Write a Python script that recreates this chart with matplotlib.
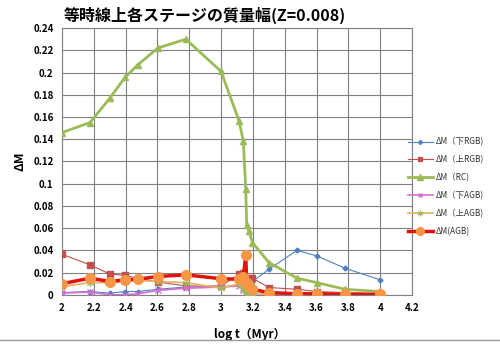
import numpy as np
import matplotlib.pyplot as plt
from matplotlib.lines import Line2D

plt.rcParams['font.family'] = ['Noto Sans CJK JP', 'DejaVu Sans']

# log t (Myr) sample points
log_t = [2.0, 2.176, 2.301, 2.398, 2.477, 2.602, 2.778, 3.0, 3.114, 3.140,
         3.155, 3.161, 3.176, 3.197, 3.301, 3.477, 3.602, 3.778, 4.0]

dm_lower_rgb = [0.002, 0.003, 0.0015, 0.003, 0.003, 0.005, 0.007, 0.007, 0.009, 0.011,
                0.013, 0.012, 0.011, 0.012, 0.023, 0.040, 0.035, 0.024, 0.0135]
dm_upper_rgb = [0.0365, 0.027, 0.0187, 0.0174, 0.015, 0.0115, 0.008, 0.008, 0.0187, 0.020,
                0.014, 0.012, 0.015, 0.015, 0.0066, 0.005, 0.003, 0.002, 0.001]
dm_rc = [0.146, 0.155, 0.177, 0.196, 0.207, 0.222, 0.230, 0.201, 0.156, 0.138,
         0.095, 0.063, 0.057, 0.047, 0.029, 0.015, 0.011, 0.005, 0.003]
dm_lower_agb = [0.0015, 0.0025, 0.0, 0.0, 0.001, 0.004, 0.006, 0.007, 0.008, 0.004,
                0.002, 0.001, 0.001, 0.001, 0.001, 0.001, 0.0005, 0.0003, 0.0002]
dm_upper_agb = [0.0075, 0.011, 0.011, 0.012, 0.013, 0.012, 0.011, 0.006, 0.010, 0.005,
                0.003, 0.002, 0.001, 0.001, 0.001, 0.001, 0.0008, 0.0005, 0.0003]
dm_agb = [0.010, 0.015, 0.012, 0.0135, 0.014, 0.0165, 0.018, 0.0145, 0.014, 0.0165,
          0.0355, 0.011, 0.008, 0.005, 0.002, 0.001, 0.001, 0.0005, 0.0005]

labels = ['ΔM（下RGB)', 'ΔM（上RGB)', 'ΔM（RC)', 'ΔM（下AGB)', 'ΔM（上AGB)', 'ΔM(AGB)']

fig = plt.figure(figsize=(5, 3.51), dpi=100)
ax = fig.add_axes([0.124, 0.160, 0.700, 0.760])

asterisk = (6, 2, 0)
ax.plot(log_t, dm_lower_rgb, color='#4F81BD', lw=0.8, marker='D', ms=2.5, zorder=3)
ax.plot(log_t, dm_upper_rgb, color='#C0504D', lw=0.8, marker='s', ms=4, zorder=3)
ax.plot(log_t, dm_rc, color='#9BBB59', lw=2, marker='^', ms=5, zorder=4)
ax.plot(log_t, dm_lower_agb, color='#D36FD3', lw=1.2, marker='x', ms=4, mew=1, zorder=3)
ax.plot(log_t, dm_upper_agb, color='#E8B060', lw=1.2, marker=asterisk, ms=5, mew=0.8,
        mec='#9BBB59', zorder=3)
ax.plot(log_t, dm_agb, color='#E0140C', lw=2.5, marker='o', ms=7, mfc='#F79646',
        mec='#F79646', zorder=5)

ax.set_xlim(2, 4.2)
ax.set_ylim(0, 0.24)
ax.set_xticks(np.arange(2, 4.21, 0.2))
ax.set_xticklabels(['2', '2.2', '2.4', '2.6', '2.8', '3', '3.2', '3.4', '3.6', '3.8', '4', '4.2'])
ax.set_yticks(np.arange(0, 0.241, 0.02))
ax.set_yticklabels(['0', '0.02', '0.04', '0.06', '0.08', '0.1', '0.12', '0.14',
                    '0.16', '0.18', '0.2', '0.22', '0.24'])
ax.tick_params(length=0, labelsize=7, pad=6)
for t in ax.get_xticklabels() + ax.get_yticklabels():
    t.set_fontweight('bold')
ax.grid(True, color='#808080', lw=0.8)
ax.set_axisbelow(True)
for s in ax.spines.values():
    s.set_color('#808080')
    s.set_linewidth(0.8)

ax.set_ylabel('ΔM', fontsize=9, fontweight='bold', labelpad=5)
ax.set_xlabel('log t（Myr）', fontsize=8.5, fontweight='bold')
ax.xaxis.set_label_coords(0.535, -0.125)
fig.text(0.41, 0.955, '等時線上各ステージの質量幅(Z=0.008)', fontsize=11.5,
         fontweight='bold', ha='center', va='center')

handles = [ax.lines[i] for i in range(6)]
leg = fig.legend(handles, labels, loc='upper left', bbox_to_anchor=(0.80, 0.63),
                 frameon=False, fontsize=6, handlelength=3, labelspacing=1.05,
                 handletextpad=0.4, markerscale=0.8)
for t in leg.get_texts():
    t.set_color('#333333')

fig.add_artist(Line2D([0, 1], [0.03, 0.03], color='#999999', lw=1))

fig.savefig('out.png', dpi=100)
